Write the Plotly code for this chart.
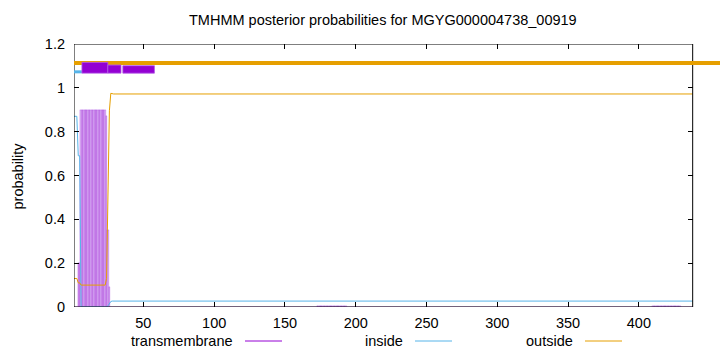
import plotly.graph_objects as go

# ---------------- data ----------------
seq_len = 438
residues = list(range(1, seq_len + 1))

# transmembrane posterior (impulses)
tm_prob = ([0.0] * 3 + [0.2, 0.2] + [0.9] * 18 + [0.87, 0.35, 0.09]
           + [0.0] * 146 + [0.005] * 21 + [0.0] * 216 + [0.005] * 20 + [0.0] * 9)
# inside posterior
inside_prob = ([0.87] * 3 + [0.69, 0.69] + [0.0] * 19 + [0.005, 0.015, 0.025]
               + [0.027] * 411)
# outside posterior
outside_prob = ([0.13] * 3 + [0.11, 0.11] + [0.1] * 18 + [0.13, 0.645, 0.895, 0.975]
                + [0.972] * 411)

# predicted topology bars at the top: (start, end)
topo_outside = [(1, 457.3)]
topo_inside = [(1, 6.6)]
topo_tm = [(6.6, 24.9, 1.116), (24.9, 34.2, 1.104), (35.5, 57.8, 1.101)]

x_ticks = [50, 100, 150, 200, 250, 300, 350, 400]
y_ticks = [0, 0.2, 0.4, 0.6, 0.8, 1.0, 1.2]
y_ticktext = ["0", "0.2", "0.4", "0.6", "0.8", "1", "1.2"]

title = "TMHMM posterior probabilities for MGYG000004738_00919"
legend_names = ["transmembrane", "inside", "outside"]

C_TM = "#9400D3"
C_IN = "#56B4E9"
C_OUT = "#E69F00"
FONT = "Liberation Sans"
FS = 14.5

# ---------------- layout geometry ----------------
W, H = 720, 352
ML, MT, MB = 74, 44, 45
plot_w = W - ML
plot_h = H - MT - MB
x_right = 457.3          # axis range extends to the image edge
frame_right_px = 692.7


def px_x(p):
    return (p - ML) / plot_w


def px_y(p):
    return (H - MB - p) / plot_h


fig = go.Figure()

fig.add_trace(go.Bar(
    x=residues, y=tm_prob, width=1.0,
    marker=dict(color="rgba(165,60,225,0.42)", line=dict(color="rgba(148,0,211,0.65)", width=0.3)),
    showlegend=False, hoverinfo="skip"))
fig.add_trace(go.Scatter(x=residues, y=inside_prob, mode="lines",
                         line=dict(color=C_IN, width=1), showlegend=False))
fig.add_trace(go.Scatter(x=residues, y=outside_prob, mode="lines",
                         line=dict(color=C_OUT, width=1), showlegend=False))
# invisible trace to keep the right-hand tick axis alive
fig.add_trace(go.Scatter(x=[1], y=[0], yaxis="y2", mode="markers",
                         marker=dict(opacity=0), showlegend=False, hoverinfo="skip"))

shapes = []
# frame
shapes.append(dict(type="rect", xref="x", yref="y", x0=1, x1=seq_len, y0=0, y1=1.2,
                   line=dict(color="black", width=1), layer="above"))
# topology
for a, b in topo_outside:
    shapes.append(dict(type="line", xref="x", yref="y", x0=a, x1=b, y0=1.113, y1=1.113,
                       line=dict(color=C_OUT, width=4)))
for a, b in topo_inside:
    shapes.append(dict(type="line", xref="x", yref="y", x0=a, x1=b, y0=1.073, y1=1.073,
                       line=dict(color=C_IN, width=3)))
for a, b, top in topo_tm:
    shapes.append(dict(type="rect", xref="x", yref="y", x0=a, x1=b, y0=1.067, y1=top,
                       fillcolor=C_TM, line=dict(color="rgba(180,90,230,0.8)", width=1)))

# legend
legend_text_right = [235, 405, 575]
legend_colors = [C_TM, C_IN, C_OUT]
annotations = []
for name, xr, col in zip(legend_names, legend_text_right, legend_colors):
    annotations.append(dict(text=name, xref="paper", yref="paper", x=px_x(xr), y=px_y(341),
                            xanchor="right", yanchor="middle", showarrow=False,
                            font=dict(family=FONT, size=FS, color="black")))
    shapes.append(dict(type="line", xref="paper", yref="paper",
                       x0=px_x(xr + 10), x1=px_x(xr + 47), y0=px_y(341), y1=px_y(341),
                       line=dict(color=col, width=1)))

annotations.append(dict(text=title, xref="paper", yref="paper", x=px_x(383), y=px_y(20),
                        xanchor="center", yanchor="middle", showarrow=False,
                        font=dict(family=FONT, size=FS, color="black")))
annotations.append(dict(text="probability", xref="paper", yref="paper", x=px_x(17), y=0.5,
                        xanchor="center", yanchor="middle", textangle=-90, showarrow=False,
                        font=dict(family=FONT, size=FS, color="black")))

fig.update_layout(
    width=W, height=H, margin=dict(l=ML, r=0, t=MT, b=MB, pad=0),
    paper_bgcolor="white", plot_bgcolor="white",
    bargap=0, showlegend=False,
    font=dict(family=FONT, size=FS, color="black"),
    xaxis=dict(range=[1, x_right], tickvals=x_ticks, ticks="inside", ticklen=5,
               tickcolor="black", mirror="ticks", showline=False, showgrid=False,
               zeroline=False, tickfont=dict(family=FONT, size=FS), ticklabelstandoff=5),
    yaxis=dict(range=[0, 1.2], tickvals=y_ticks, ticktext=y_ticktext, ticks="inside",
               ticklen=5, tickcolor="black", showline=False, showgrid=False,
               zeroline=False, tickfont=dict(family=FONT, size=FS), ticklabelstandoff=8),
    yaxis2=dict(range=[0, 1.2], overlaying="y", side="right", anchor="free",
                position=px_x(frame_right_px), tickvals=y_ticks, ticks="inside",
                ticklen=5, tickcolor="black", showticklabels=False, showline=False,
                showgrid=False, zeroline=False),
    shapes=shapes, annotations=annotations,
)

fig.write_html("out.html")
